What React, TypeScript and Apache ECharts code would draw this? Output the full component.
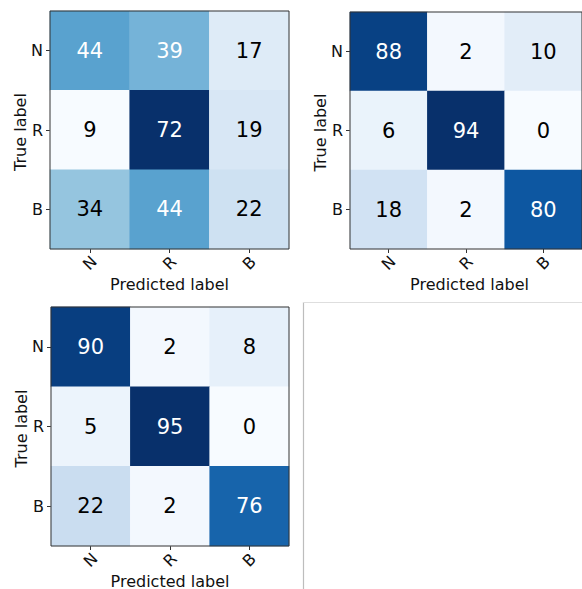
import React, { useEffect, useRef } from "react";
import * as echarts from "echarts";

const categories = ["N", "R", "B"];
const matrix1 = [
  [44, 39, 17],
  [9, 72, 19],
  [34, 44, 22],
];
const matrix2 = [
  [88, 2, 10],
  [6, 94, 0],
  [18, 2, 80],
];
const matrix3 = [
  [90, 2, 8],
  [5, 95, 0],
  [22, 2, 76],
];
const xTitle = "Predicted label";
const yTitle = "True label";

const BLUES = [
  "#f7fbff",
  "#deebf7",
  "#c6dbef",
  "#9ecae1",
  "#6baed6",
  "#4292c6",
  "#2171b5",
  "#08519c",
  "#08306b",
];

const FONT = "DejaVu Sans";

const grids = [
  { left: 50, top: 11, width: 239, height: 238 },
  { left: 350, top: 12, width: 239, height: 237 },
  { left: 51, top: 307, width: 238, height: 239 },
];

export default function App() {
  const ref = useRef<HTMLDivElement>(null);

  useEffect(() => {
    if (!ref.current) return;
    const chart = echarts.init(ref.current, undefined, { renderer: "svg" });
    const matrices = [matrix1, matrix2, matrix3];

    const xAxes: any[] = [];
    const yAxes: any[] = [];
    const series: any[] = [];
    const visualMaps: any[] = [];
    const graphics: any[] = [];

    matrices.forEach((m, gi) => {
      const flat = m.flat();
      const mx = Math.max(...flat);
      const mn = Math.min(...flat);
      const thresh = mx / 2;
      xAxes.push({
        type: "category",
        gridIndex: gi,
        data: categories,
        position: "bottom",
        axisLine: { show: false },
        axisTick: {
          show: true,
          alignWithLabel: true,
          length: 4,
          lineStyle: { color: "#333" },
        },
        axisLabel: {
          rotate: 45,
          margin: 14,
          align: "center",
          verticalAlign: "middle",
          fontSize: 16,
          fontFamily: FONT,
          color: "#111",
        },
        splitLine: { show: false },
      });
      yAxes.push({
        type: "category",
        gridIndex: gi,
        data: categories,
        inverse: true,
        axisLine: { show: false },
        axisTick: {
          show: true,
          alignWithLabel: true,
          length: 4,
          lineStyle: { color: "#333" },
        },
        axisLabel: {
          margin: 7,
          fontSize: 16,
          fontFamily: FONT,
          color: "#111",
        },
        splitLine: { show: false },
      });
      const data: any[] = [];
      m.forEach((row, yi) => {
        row.forEach((v, xi) => {
          data.push({
            value: [xi, yi, v],
            label: { color: v > thresh ? "#ffffff" : "#000000" },
          });
        });
      });
      series.push({
        type: "heatmap",
        xAxisIndex: gi,
        yAxisIndex: gi,
        data,
        label: {
          show: true,
          fontSize: 21,
          fontFamily: FONT,
          formatter: (p: any) => String(p.value[2]),
        },
        itemStyle: { borderWidth: 0 },
        emphasis: { disabled: true },
      });
      visualMaps.push({
        type: "continuous",
        show: false,
        seriesIndex: gi,
        dimension: 2,
        min: mn,
        max: mx,
        inRange: { color: BLUES },
      });
      const g = grids[gi];
      graphics.push({
        type: "text",
        x: g.left + g.width / 2,
        y: g.top + g.height + 35,
        style: {
          text: xTitle,
          fontSize: 16,
          fontFamily: FONT,
          fill: "#111",
          align: "center",
          verticalAlign: "middle",
        },
      });
      graphics.push({
        type: "text",
        x: g.left - 30,
        y: g.top + g.height / 2 + 2,
        rotation: Math.PI / 2,
        style: {
          text: yTitle,
          fontSize: 16,
          fontFamily: FONT,
          fill: "#111",
          align: "center",
          verticalAlign: "middle",
        },
      });
    });

    // empty fourth panel frame
    graphics.push({
      type: "line",
      shape: { x1: 303.5, y1: 302, x2: 303.5, y2: 589 },
      style: { stroke: "#bdbdbd", lineWidth: 1.2 },
    });
    graphics.push({
      type: "line",
      shape: { x1: 303, y1: 302.5, x2: 582, y2: 302.5 },
      style: { stroke: "#dedede", lineWidth: 1 },
    });

    chart.setOption({
      animation: false,
      backgroundColor: "#ffffff",
      grid: grids.map((g) => ({
        ...g,
        show: true,
        z: 10,
        backgroundColor: "transparent",
        borderColor: "#333",
        borderWidth: 1,
        containLabel: false,
      })),
      xAxis: xAxes,
      yAxis: yAxes,
      visualMap: visualMaps,
      series,
      graphic: graphics,
    });

    return () => chart.dispose();
  }, []);

  return (
    <div
      ref={ref}
      style={{ position: "absolute", left: 0, top: 0, width: 582, height: 589 }}
    />
  );
}
